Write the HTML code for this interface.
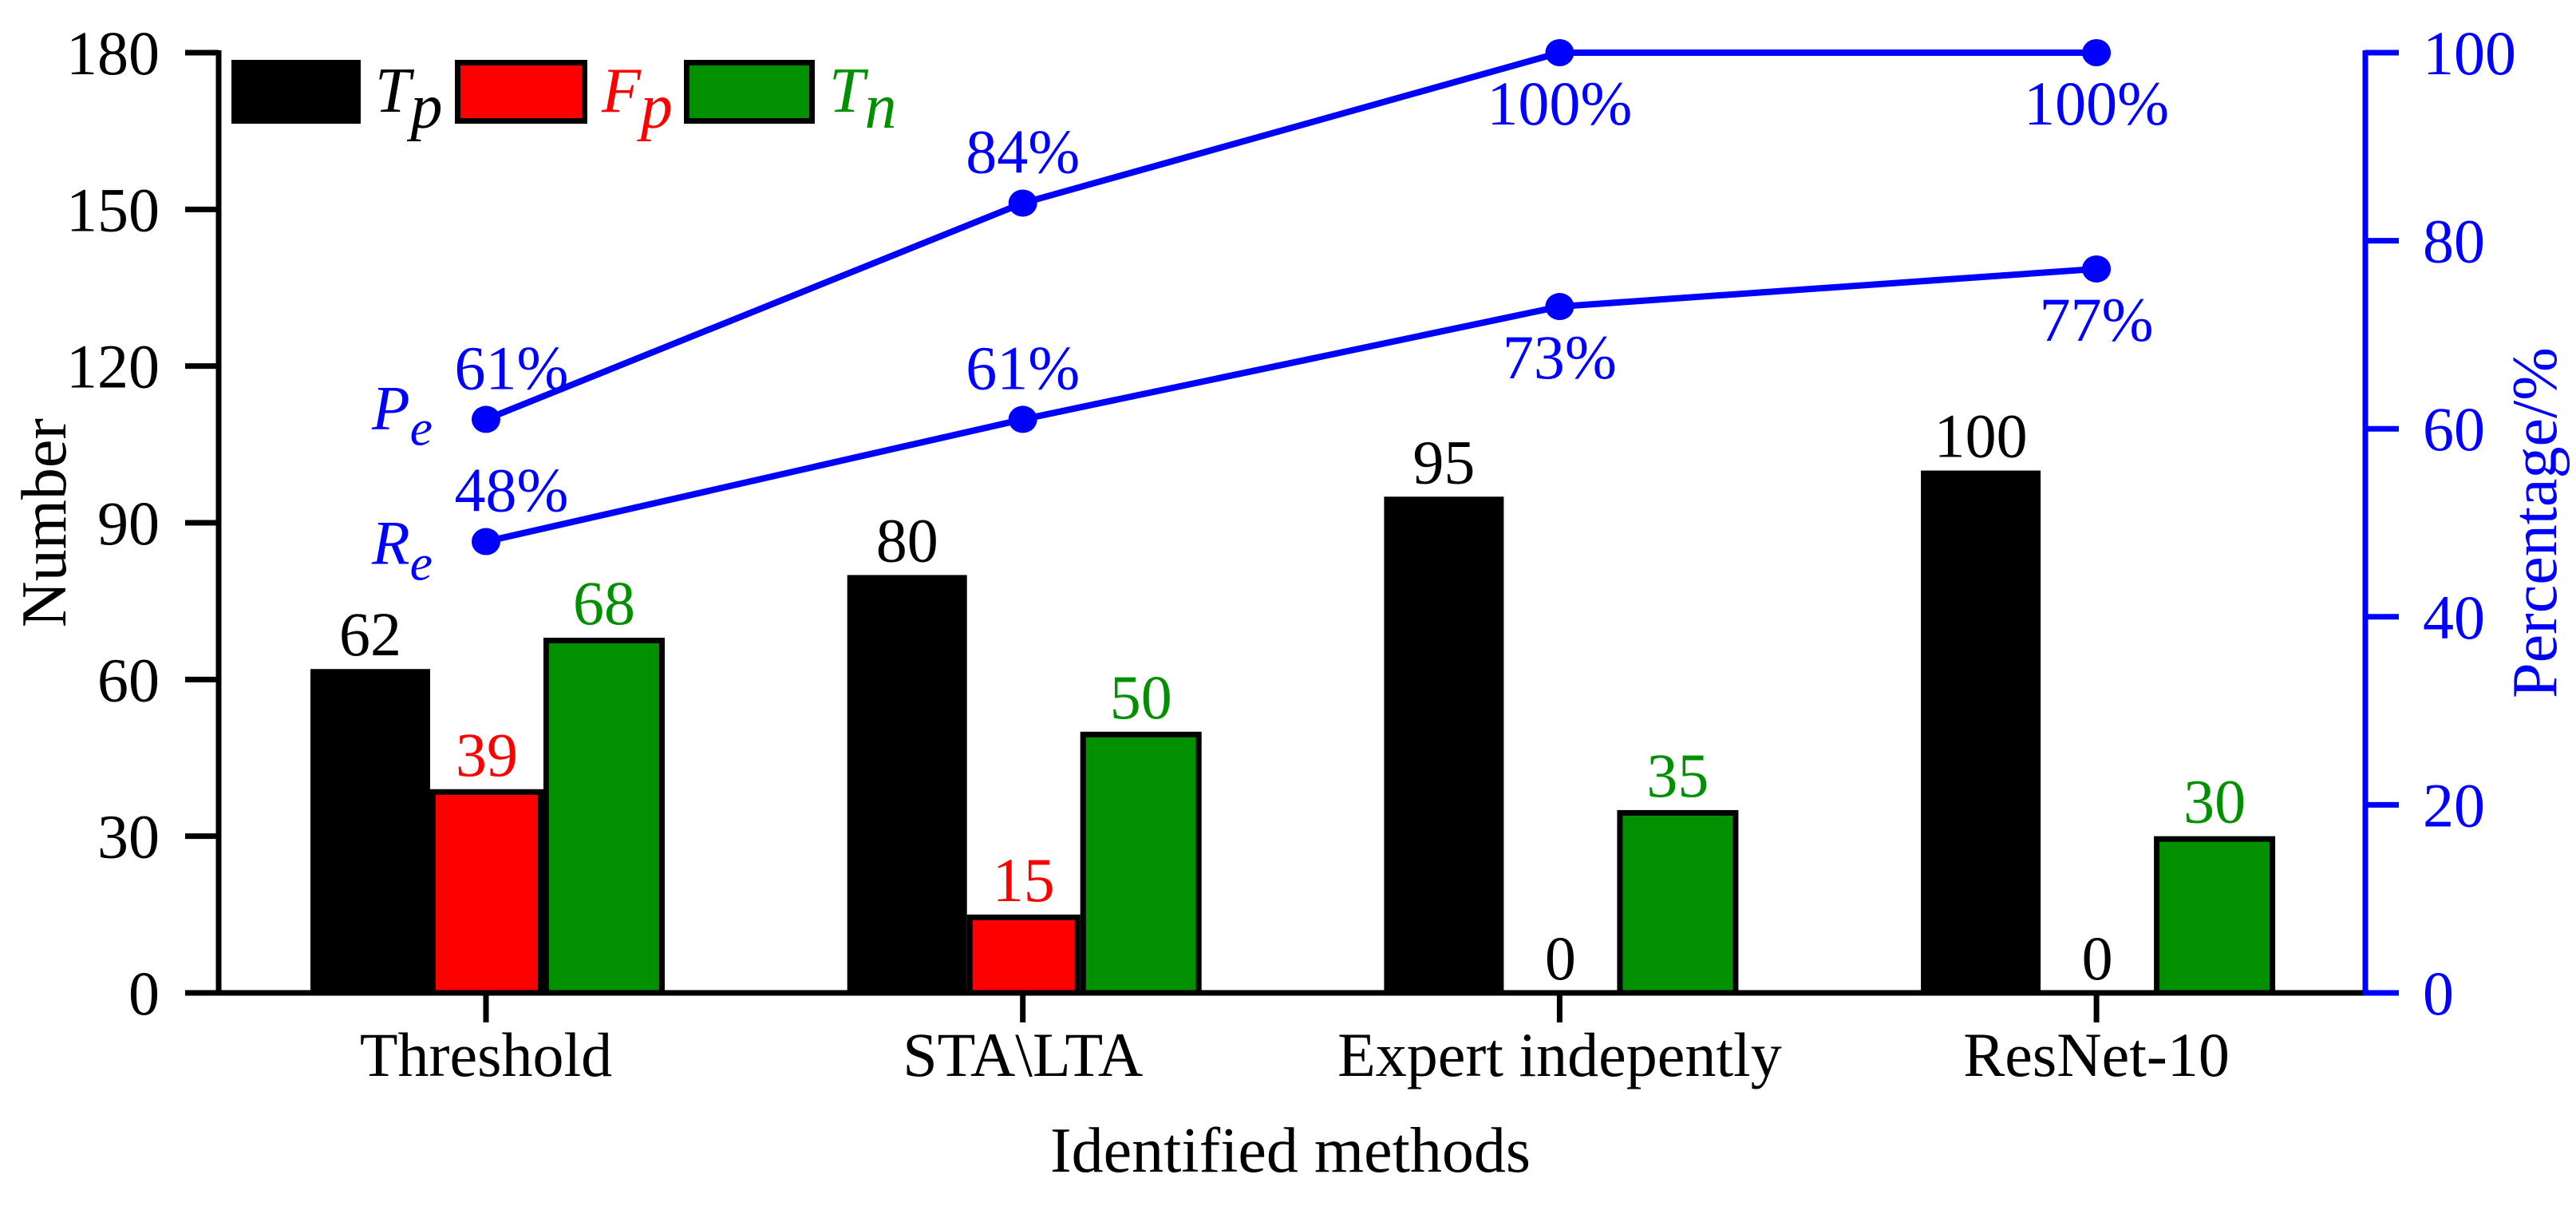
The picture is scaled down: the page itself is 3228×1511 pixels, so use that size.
<!DOCTYPE html>
<html><head><meta charset="utf-8"><style>
html,body{margin:0;padding:0;background:#fff;}
svg{display:block;font-family:"Liberation Serif",serif;}
</style></head><body>
<svg id="chart" width="3228" height="1511" viewBox="0 0 3228 1511" xmlns="http://www.w3.org/2000/svg">
<g id="axes"></g>
<g id="bars"></g>
<g id="lines"></g>
<g id="legend"></g>
</svg>
<script>
const categories = ["Threshold", "STA\\LTA", "Expert indepently", "ResNet-10"];
const tpValues = [62, 80, 95, 100];
const fpValues = [39, 15, 0, 0];
const tnValues = [68, 50, 35, 30];
const peValues = [61, 84, 100, 100];
const reValues = [48, 61, 73, 77];
const leftTicks = [0, 30, 60, 90, 120, 150, 180];
const rightTicks = [0, 20, 40, 60, 80, 100];
const peLabelBelow = [false, false, true, true];
const reLabelBelow = [false, false, true, true];

const NS = "http://www.w3.org/2000/svg";
const X0 = 274, X1 = 2964, Y0 = 1244, YT = 66;
const yL = v => Y0 - (v / 180) * (Y0 - YT);
const yR = v => Y0 - (v / 100) * (Y0 - YT);
const xC = i => 609 + i * 672.7;
function mk(tag, attrs, parent, text) {
  const e = document.createElementNS(NS, tag);
  for (const k in attrs) e.setAttribute(k, attrs[k]);
  if (text !== undefined) e.textContent = text;
  parent.appendChild(e);
  return e;
}
const axes = document.getElementById("axes");
const bars = document.getElementById("bars");
const lines = document.getElementById("lines");
const legend = document.getElementById("legend");

const series = [
  {vals: tpValues, fill: "#000", lab: "#000", off: -220, w: 150, name: "tp"},
  {vals: fpValues, fill: "#ff0000", lab: "#ff0000", off: -70, w: 142, name: "fp"},
  {vals: tnValues, fill: "#009000", lab: "#009000", off: 72, w: 152, name: "tn"}
];
series.forEach(s => {
  s.vals.forEach((v, i) => {
    const x = xC(i) + s.off;
    if (v > 0) {
      const r = mk("rect", {x: x + 3.5, y: yL(v) + 3.5, width: s.w - 7, height: Y0 - yL(v) - 3.5, fill: s.fill, stroke: "#000", "stroke-width": 7}, bars);
      
      
    }
    const t = mk("text", {x: x + s.w / 2, y: yL(v) - 17, "text-anchor": "middle", "font-size": 78, fill: v === 0 ? "#000" : s.lab}, bars, String(v));
    
    
  });
});

mk("line", {x1: X0, y1: YT - 3, x2: X0, y2: Y0 + 3, stroke: "#000", "stroke-width": 7}, axes);
mk("line", {x1: X0 - 42, y1: Y0, x2: X1, y2: Y0, stroke: "#000", "stroke-width": 7}, axes);
mk("line", {x1: X1, y1: YT - 3, x2: X1, y2: Y0 + 3, stroke: "#0000ff", "stroke-width": 7}, axes);
leftTicks.forEach(v => {
  mk("line", {x1: X0 - 42, y1: yL(v), x2: X0, y2: yL(v), stroke: "#000", "stroke-width": 7}, axes);
  const t = mk("text", {x: 200, y: yL(v) + 27, "text-anchor": "end", "font-size": 78, fill: "#000"}, axes, String(v));
  
  
});
rightTicks.forEach(v => {
  mk("line", {x1: X1, y1: yR(v), x2: X1 + 42, y2: yR(v), stroke: "#0000ff", "stroke-width": 7}, axes);
  const t = mk("text", {x: 3036, y: yR(v) + 27, "text-anchor": "start", "font-size": 78, fill: "#0000ff"}, axes, String(v));
  
  
});
categories.forEach((c, i) => {
  mk("line", {x1: xC(i), y1: Y0, x2: xC(i), y2: 1281, stroke: "#000", "stroke-width": 7}, axes);
  const t = mk("text", {x: xC(i), y: 1348, "text-anchor": "middle", "font-size": 78, fill: "#000"}, axes, c);
  
  
});
const xt = mk("text", {x: 1617, y: 1468, "text-anchor": "middle", "font-size": 80, fill: "#000"}, axes, "Identified methods");


const yt = mk("text", {x: 0, y: 0, transform: "translate(82,655) rotate(-90)", "text-anchor": "middle", "font-size": 80, fill: "#000"}, axes, "Number");


const yt2 = mk("text", {x: 0, y: 0, transform: "translate(3203,655) rotate(-90)", "text-anchor": "middle", "font-size": 80, fill: "#0000ff"}, axes, "Percentage/%");



function drawLine(vals, below, name) {
  const pts = vals.map((v, i) => xC(i) + "," + yR(v)).join(" ");
  const pl = mk("polyline", {points: pts, fill: "none", stroke: "#0000ff", "stroke-width": 8}, lines);
  
  
  vals.forEach((v, i) => {
    const c = mk("ellipse", {cx: xC(i), cy: yR(v), rx: 18, ry: 17, fill: "#0000ff"}, lines);
    
    
    const t = mk("text", {x: xC(i) + (i === 0 ? 32 : 0), y: below[i] ? yR(v) + 90 : yR(v) - 38, "text-anchor": "middle", "font-size": 78, fill: "#0000ff"}, lines, v + "%");
    
    
  });
}
drawLine(peValues, peLabelBelow, "pe");
drawLine(reValues, reLabelBelow, "re");
function seriesName(letter, sub, x, y, color, nm) {
  const t = mk("text", {x: x, y: y, "font-size": 78, "font-style": "italic", fill: color}, lines);
  mk("tspan", {}, t, letter);
  mk("tspan", {dy: 20, "font-size": 64}, t, sub);
  
  
}
seriesName("P", "e", 466, yR(peValues[0]) + 12, "#0000ff", "pe-series-label");
seriesName("R", "e", 466, yR(reValues[0]) + 28, "#0000ff", "re-series-label");

const legItems = [
  {x: 290, w: 162, fill: "#000", col: "#000", l: "T", s: "p", n: "tp"},
  {x: 570, w: 166, fill: "#ff0000", col: "#ff0000", l: "F", s: "p", n: "fp"},
  {x: 857, w: 164, fill: "#009000", col: "#009000", l: "T", s: "n", n: "tn"}
];
legItems.forEach(it => {
  const g = mk("g", {}, legend);
  
  
  mk("rect", {x: it.x + 3.5, y: 78.5, width: it.w - 7, height: 73, fill: it.fill, stroke: "#000", "stroke-width": 7}, g);
  const t = mk("text", {x: it.x + it.w + 18, y: 140, "font-size": 80, "font-style": "italic", fill: it.col}, g);
  mk("tspan", {}, t, it.l);
  mk("tspan", {dy: 20, "font-size": 80}, t, it.s);
});
</script>
</body></html>
